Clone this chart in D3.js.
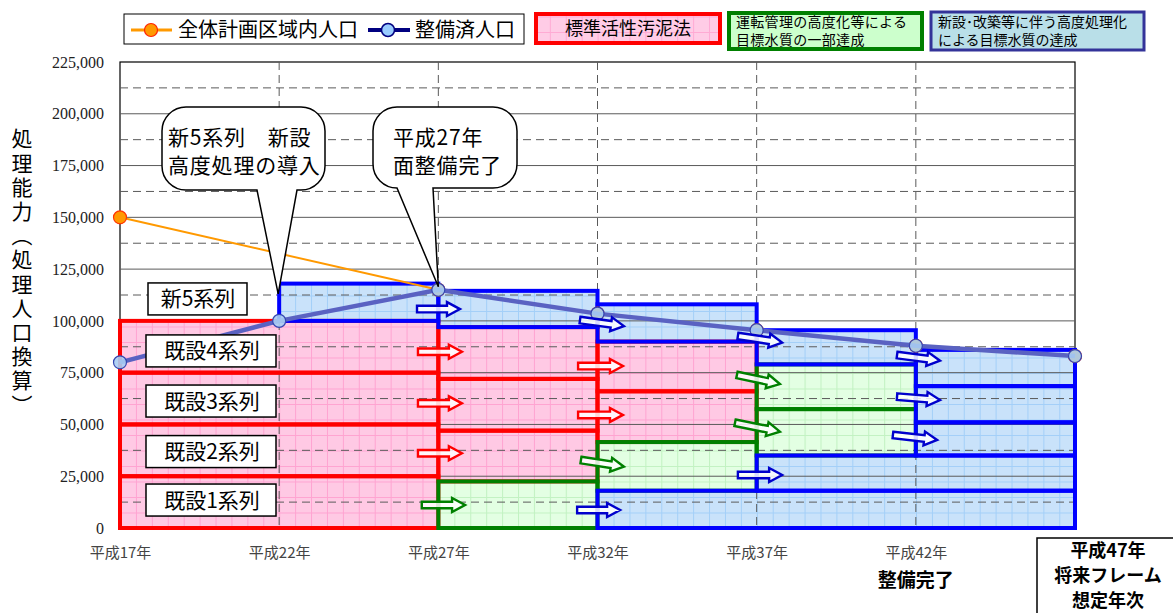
<!DOCTYPE html>
<html>
<head>
<meta charset="utf-8">
<script src="https://cdn.jsdelivr.net/npm/d3@7"></script>
<style>
body { margin: 0; background: #fff; }
svg text { font-family: "Noto Sans CJK JP", sans-serif; }
.y.axis text { font-family: "Liberation Serif", serif; font-size: 16px; fill: #222; }
.x.axis text { font-family: "Noto Sans CJK JP", sans-serif; font-size: 15px; fill: #444; }
</style>
</head>
<body>
<div id="chart"></div>
<script>
// years (平成) and tick labels
var years = [17, 22, 27, 32, 37, 42, 47];
var yearLabels = ["平成17年", "平成22年", "平成27年", "平成32年", "平成37年", "平成42年"];
var yTicks = [0, 25000, 50000, 75000, 100000, 125000, 150000, 175000, 200000, 225000];

// population series
var planPop = [150000, 132500, 115000, 103500, 95500, 88000, 83000];   // 全体計画区域内人口
var servedPop = [80000, 100000, 115000, 103500, 95500, 88000, 83000];  // 整備済人口

// treatment trains: [fromYear, toYear, low, high]
var redBlocks = [
    [17, 27, 0, 25000], [17, 27, 25000, 50000], [17, 27, 50000, 75000], [17, 27, 75000, 100000],
    [27, 32, 22500, 47000], [27, 32, 47000, 72000], [27, 32, 72000, 97000],
    [32, 37, 41500, 66000], [32, 37, 66000, 90000]
];
var greenBlocks = [
    [27, 32, 0, 22500], [32, 37, 18000, 41500],
    [37, 42, 35000, 57400], [37, 42, 57400, 79000]
];
var blueBlocks = [
    [22, 27, 100000, 118000], [27, 32, 97000, 114500], [32, 37, 90000, 108000],
    [32, 47, 0, 18000], [37, 42, 79000, 95500], [37, 47, 18000, 35000],
    [42, 47, 68500, 86000], [42, 47, 51000, 68500], [42, 47, 35000, 51000]
];

// transition arrows: [fromYear, fromValue, toYear, toValue]
var redArrows = [
    [26.36, 85100, 27.74, 85100], [26.36, 60200, 27.74, 60200], [26.36, 36100, 27.74, 36100],
    [31.39, 78200, 32.8, 78200], [31.39, 54600, 32.8, 54600]
];
var greenArrows = [
    [26.48, 11100, 27.84, 11100], [31.48, 32800, 32.83, 29600],
    [36.38, 73900, 37.73, 69500], [36.32, 50800, 37.73, 46500]
];
var blueArrows = [
    [26.33, 105700, 27.68, 105700], [31.45, 100400, 32.83, 97500], [31.36, 8700, 32.71, 8700],
    [36.41, 92700, 37.8, 89500], [36.41, 25600, 37.8, 25600],
    [41.41, 83500, 42.76, 80800], [41.41, 63400, 42.76, 61800], [41.28, 44900, 42.67, 42500]
];

// train labels
var trainLabels = ["新5系列", "既設4系列", "既設3系列", "既設2系列", "既設1系列"];
var trainLabelValues = [110600, 85500, 61300, 36900, 13500];

function init(){

    var w = 1173;
    var h = 613;

    var xScale = d3.scaleLinear().domain([17, 47]).range([120, 1075]);
    var yScale = d3.scaleLinear().domain([0, 225000]).range([528, 62]);

    var svg = d3.select("#chart")
                .append("svg")
                .attr("width", w)
                .attr("height", h);

    var defs = svg.append("defs");

    function makePattern(id, base, line) {
        var p = defs.append("pattern")
            .attr("id", id)
            .attr("patternUnits", "userSpaceOnUse")
            .attr("x", 120).attr("y", 528)
            .attr("width", 15.92).attr("height", 15.5);
        p.append("rect").attr("width", 16).attr("height", 16).attr("fill", base);
        p.append("path").attr("d", "M0.5,0 V15.5 M0,0.5 H15.92")
            .attr("stroke", line).attr("stroke-width", 1).attr("fill", "none");
    }
    makePattern("pinkGrid", "#ffc9e4", "#ffa3d1");
    makePattern("greenGrid", "#e3ffe3", "#c2f2c2");
    makePattern("blueGrid", "#c9e2fa", "#a3cff8");
    makePattern("pinkGridLeg", "#ffcce6", "#ffaad4");

    // multi-line text as one element
    function multiText(parent, x, y, lines, size, lh) {
        var t = parent.append("text").attr("x", x).attr("y", y)
            .attr("font-size", size).attr("fill", "#000");
        lines.forEach(function(l, i) {
            t.append("tspan").attr("x", x).attr("dy", i === 0 ? 0 : lh).text(l);
        });
        return t;
    }

    // plot frame
    svg.append("rect")
        .attr("x", xScale(17)).attr("y", yScale(225000))
        .attr("width", xScale(47) - xScale(17))
        .attr("height", yScale(0) - yScale(225000))
        .attr("fill", "#fff").attr("stroke", "#000").attr("stroke-width", 1.2);

    var groups = [
        { data: redBlocks, fill: "url(#pinkGrid)", stroke: "#ff0000" },
        { data: greenBlocks, fill: "url(#greenGrid)", stroke: "#008000" },
        { data: blueBlocks, fill: "url(#blueGrid)", stroke: "#0000ff" }
    ];

    // block fills
    groups.forEach(function(g) {
        svg.append("g").selectAll("rect")
            .data(g.data).enter().append("rect")
            .attr("x", function(d) { return xScale(d[0]); })
            .attr("y", function(d) { return yScale(d[3]); })
            .attr("width", function(d) { return xScale(d[1]) - xScale(d[0]); })
            .attr("height", function(d) { return yScale(d[2]) - yScale(d[3]); })
            .attr("fill", g.fill);
    });

    // gridlines
    var grid = svg.append("g");
    for (var v = 12500; v < 225000; v += 12500) {
        grid.append("line")
            .attr("x1", xScale(17)).attr("x2", xScale(47))
            .attr("y1", yScale(v)).attr("y2", yScale(v))
            .attr("stroke", "#5a5a5a").attr("stroke-width", 1)
            .attr("stroke-dasharray", v % 25000 === 0 ? null : "8,5");
    }
    years.slice(1, 6).forEach(function(yr) {
        grid.append("line")
            .attr("x1", xScale(yr)).attr("x2", xScale(yr))
            .attr("y1", yScale(225000)).attr("y2", yScale(0))
            .attr("stroke", "#5a5a5a").attr("stroke-width", 1)
            .attr("stroke-dasharray", "8,5");
    });

    // block borders
    groups.forEach(function(g) {
        svg.append("g").selectAll("rect")
            .data(g.data).enter().append("rect")
            .attr("x", function(d) { return xScale(d[0]); })
            .attr("y", function(d) { return yScale(d[3]); })
            .attr("width", function(d) { return xScale(d[1]) - xScale(d[0]); })
            .attr("height", function(d) { return yScale(d[2]) - yScale(d[3]); })
            .attr("fill", "none")
            .attr("stroke", g.stroke).attr("stroke-width", 4);
    });

    // axes
    var yAxis = d3.axisLeft(yScale).tickValues(yTicks)
        .tickFormat(d3.format(",")).tickSize(0).tickPadding(16);
    var yg = svg.append("g").attr("class", "y axis")
        .attr("transform", "translate(" + xScale(17) + ",0)").call(yAxis);
    yg.select(".domain").remove();

    var xAxis = d3.axisBottom(xScale).tickValues(years.slice(0, 6))
        .tickFormat(function(d, i) { return yearLabels[i]; }).tickSize(0).tickPadding(19);
    var xg = svg.append("g").attr("class", "x axis")
        .attr("transform", "translate(0," + yScale(0) + ")").call(xAxis);
    xg.select(".domain").remove();

    // population lines
    var planLine = d3.line()
        .x(function(d, i) { return xScale(years[i]); })
        .y(function(d) { return yScale(d); });

    svg.append("path").datum(planPop)
        .attr("d", planLine).attr("fill", "none")
        .attr("stroke", "#ff9900").attr("stroke-width", 2);
    svg.append("g").selectAll("circle").data(planPop).enter().append("circle")
        .attr("cx", function(d, i) { return xScale(years[i]); })
        .attr("cy", function(d) { return yScale(d); })
        .attr("r", 6.5).attr("fill", "#ff9900")
        .attr("stroke", "#ff3300").attr("stroke-width", 1.2);

    svg.append("path").datum(servedPop)
        .attr("d", planLine).attr("fill", "none")
        .attr("stroke", "#5a62c2").attr("stroke-width", 4.5);
    svg.append("g").selectAll("circle").data(servedPop).enter().append("circle")
        .attr("cx", function(d, i) { return xScale(years[i]); })
        .attr("cy", function(d) { return yScale(d); })
        .attr("r", 6.5).attr("fill", "#a9cdf3").attr("fill-opacity", 0.9)
        .attr("stroke", "#3446b0").attr("stroke-width", 1.2);

    // arrows
    function drawArrows(list, color) {
        var g = svg.append("g");
        list.forEach(function(a) {
            var x1 = xScale(a[0]), y1 = yScale(a[1]);
            var x2 = xScale(a[2]), y2 = yScale(a[3]);
            var L = Math.sqrt((x2 - x1) * (x2 - x1) + (y2 - y1) * (y2 - y1));
            var ang = Math.atan2(y2 - y1, x2 - x1) * 180 / Math.PI;
            var s = 3.3, hw = 7, hl = 13;
            var pts = [[0, -s], [L - hl, -s], [L - hl, -hw], [L, 0], [L - hl, hw], [L - hl, s], [0, s]];
            g.append("polygon")
                .attr("points", pts.map(function(p) { return p.join(","); }).join(" "))
                .attr("transform", "translate(" + x1 + "," + y1 + ") rotate(" + ang + ")")
                .attr("fill", "#fff").attr("fill-opacity", 0.85)
                .attr("stroke", color).attr("stroke-width", 2.4)
                .attr("stroke-linejoin", "miter");
        });
    }
    drawArrows(redArrows, "#ff0000");
    drawArrows(greenArrows, "#008000");
    drawArrows(blueArrows, "#0000cc");

    // train labels
    var lab = svg.append("g").selectAll("g").data(trainLabels).enter().append("g");
    lab.append("rect")
        .attr("x", function(d, i) { return i === 0 ? 148 : 146; })
        .attr("y", function(d, i) { return yScale(trainLabelValues[i]) - 16; })
        .attr("width", function(d, i) { return i === 0 ? 99 : 130; })
        .attr("height", 32)
        .attr("fill", "#fff").attr("stroke", "#000").attr("stroke-width", 1.5);
    lab.append("text")
        .attr("x", function(d, i) { return i === 0 ? 198 : 212; })
        .attr("y", function(d, i) { return yScale(trainLabelValues[i]) + 7.5; })
        .attr("text-anchor", "middle")
        .attr("font-size", "21px").attr("fill", "#000")
        .text(function(d) { return d; });

    // callouts
    function callout(x0, y0, x1, y1, bx0, bx1, tx, ty, tx0, lines) {
        var r = 24;
        var p = "M" + (x0 + r) + "," + y0 + " H" + (x1 - r) +
            " A" + r + "," + r + " 0 0 1 " + x1 + "," + (y0 + r) +
            " V" + (y1 - r) +
            " A" + r + "," + r + " 0 0 1 " + (x1 - r) + "," + y1 +
            " H" + bx1 + " L" + tx + "," + ty + " L" + bx0 + "," + y1 +
            " H" + (x0 + r) +
            " A" + r + "," + r + " 0 0 1 " + x0 + "," + (y1 - r) +
            " V" + (y0 + r) +
            " A" + r + "," + r + " 0 0 1 " + (x0 + r) + "," + y0 + " Z";
        svg.append("path").attr("d", p)
            .attr("fill", "#fff").attr("stroke", "#000").attr("stroke-width", 1.5);
        multiText(svg, tx0, y0 + 37.5, lines, "21px", 28.5)
            .style("letter-spacing", "0.8px");
    }
    callout(162, 107, 325, 190, 257, 297, xScale(22) - 1, yScale(113000), 168,
        ["新5系列　新設", "高度処理の導入"]);
    callout(373, 107, 517, 188, 397, 433, xScale(27), yScale(116500), 393,
        ["平成27年", "面整備完了"]);

    // y axis title (vertical)
    svg.append("text")
        .attr("x", 22).attr("y", 128)
        .attr("font-size", "21px").attr("fill", "#000")
        .style("writing-mode", "vertical-rl")
        .style("text-orientation", "upright")
        .style("letter-spacing", "3.2px")
        .text("処理能力（処理人口換算）");

    // legends
    var leg = svg.append("g");
    leg.append("rect").attr("x", 124).attr("y", 14).attr("width", 400).attr("height", 30)
        .attr("fill", "#fff").attr("stroke", "#000").attr("stroke-width", 1);
    leg.append("line").attr("x1", 131).attr("x2", 172).attr("y1", 30).attr("y2", 30)
        .attr("stroke", "#ff9900").attr("stroke-width", 3);
    leg.append("circle").attr("cx", 151).attr("cy", 30).attr("r", 6.5)
        .attr("fill", "#ff9900").attr("stroke", "#ff2200").attr("stroke-width", 1.2);
    leg.append("text").attr("x", 178).attr("y", 37).attr("font-size", "20px").text("全体計画区域内人口");
    leg.append("line").attr("x1", 368).attr("x2", 410).attr("y1", 30).attr("y2", 30)
        .attr("stroke", "#000080").attr("stroke-width", 4);
    leg.append("circle").attr("cx", 388).attr("cy", 30).attr("r", 6.5)
        .attr("fill", "#99ccff").attr("stroke", "#000080").attr("stroke-width", 1.5);
    leg.append("text").attr("x", 415).attr("y", 37).attr("font-size", "20px").text("整備済人口");

    leg.append("rect").attr("x", 536).attr("y", 14).attr("width", 184).attr("height", 29)
        .attr("fill", "url(#pinkGridLeg)").attr("stroke", "#ff0000").attr("stroke-width", 4);
    leg.append("text").attr("x", 628).attr("y", 35).attr("text-anchor", "middle")
        .attr("font-size", "18px").text("標準活性汚泥法");

    leg.append("rect").attr("x", 729).attr("y", 13).attr("width", 193).attr("height", 36)
        .attr("fill", "#ccffcc").attr("stroke", "#008000").attr("stroke-width", 4);
    multiText(leg, 736, 27, ["運転管理の高度化等による", "目標水質の一部達成"], "14px", 18)
        .style("letter-spacing", "0.3px");

    leg.append("rect").attr("x", 931).attr("y", 12).attr("width", 213).attr("height", 38)
        .attr("fill", "#b9dfe8").attr("stroke", "#333399").attr("stroke-width", 3);
    multiText(leg, 938, 27, ["新設･改築等に伴う高度処理化", "による目標水質の達成"], "14px", 18);

    // bottom notes
    svg.append("text").attr("x", xScale(42)).attr("y", 587).attr("text-anchor", "middle")
        .attr("font-size", "19px").attr("font-weight", "bold").text("整備完了");
    svg.append("rect").attr("x", 1037).attr("y", 538).attr("width", 150).attr("height", 90)
        .attr("fill", "#fff").attr("stroke", "#000").attr("stroke-width", 1.5);
    ["平成47年", "将来フレーム", "想定年次"].forEach(function(t, i) {
        svg.append("text").attr("x", 1108).attr("y", 557 + i * 25)
            .attr("text-anchor", "middle").attr("font-size", "18px")
            .attr("font-weight", "bold").text(t);
    });
}
window.onload = init;
</script>
</body>
</html>
